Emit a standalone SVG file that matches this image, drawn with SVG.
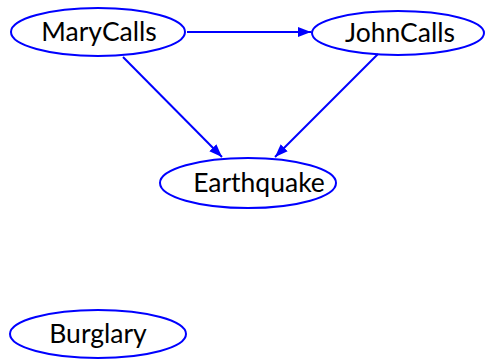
<svg xmlns="http://www.w3.org/2000/svg" width="486" height="360" viewBox="0 0 486 360">
<style>
.n ellipse{fill:none;stroke:#0000ff;stroke-width:2}
.n text{font-family:Lato,"Open Sans",sans-serif;font-size:26.5px;fill:#000;text-anchor:middle;dominant-baseline:central}
.e line{stroke:#0000ff;stroke-width:2;marker-end:url(#ah)}
</style>
<defs>
<marker id="ah" viewBox="0 0 10 10" refX="10" refY="5" markerWidth="6.5" markerHeight="6.5" orient="auto" markerUnits="strokeWidth">
<path d="M0,1.2 L10,5 L0,8.8 z" fill="#0000ff"/>
</marker>
</defs>
<g id="edges" class="e">
<line x1="187" y1="32" x2="311" y2="32"/>
<line x1="123" y1="57" x2="222" y2="157"/>
<line x1="378" y1="54" x2="275" y2="157"/>
</g>
<g id="MaryCalls" class="n"><ellipse cx="98" cy="32" rx="87" ry="24"/><text x="99" y="31">MaryCalls</text></g>
<g id="JohnCalls" class="n"><ellipse cx="398" cy="33" rx="86" ry="22"/><text x="400" y="32">JohnCalls</text></g>
<g id="Earthquake" class="n"><ellipse cx="248" cy="183" rx="88" ry="25"/><text x="259" y="182">Earthquake</text></g>
<g id="Burglary" class="n"><ellipse cx="98" cy="334" rx="88" ry="24"/><text x="98" y="333">Burglary</text></g>
</svg>
